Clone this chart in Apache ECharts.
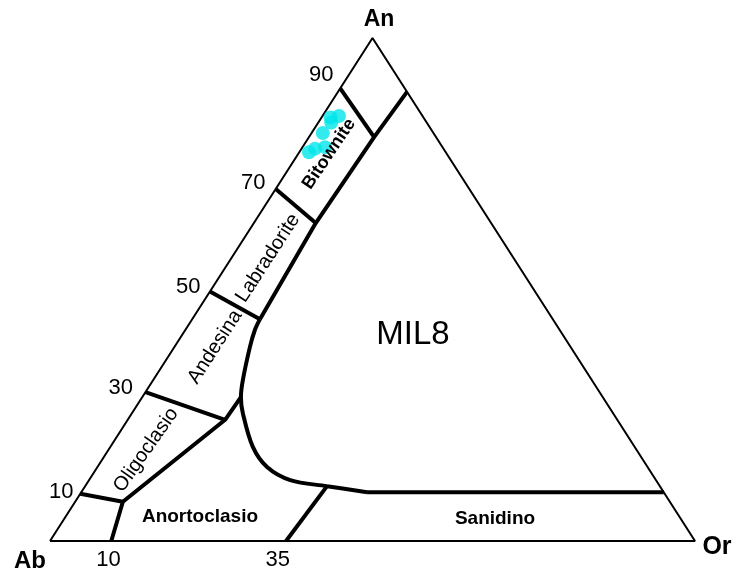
<!DOCTYPE html>
<html><head><meta charset="utf-8">
<script src="https://cdn.jsdelivr.net/npm/echarts@6/dist/echarts.min.js"></script>
<style>html,body{margin:0;padding:0;background:#fff}#c{width:740px;height:577px}</style>
</head><body><div id="c"></div>
<script>
// All points are ternary compositions [An, Or] in percent (Ab = 100 - An - Or)
const triangle = [[0,0],[0,100],[100,0],[0,0]];
const plagBoundary = [[89.3,10.7],[80.3,10.1],[63.2,9.6],[44.1,10.5]];
const solvusCurve = [[44.1,10.5],[41.9,10.8],[38.6,11.7],[32.0,13.9],[28.6,15.3],[25.4,17.2],[18.7,22.1],[14.7,26.3],[12.1,31.2],[10.9,37.5],[9.7,44.3]];
const sanidineTop = [[9.7,44.3],[9.7,90.3]];
const oligoBranch = [[28.6,15.3],[24.1,15.1],[7.8,7.4],[0,9.5]];
const dividers = [
  [[90,0],[80.3,10.1]],
  [[70,0],[63.2,9.6]],
  [[49.6,0],[44.1,10.5]],
  [[29.6,0],[24.1,15.1]],
  [[9.4,0],[7.8,7.4]]
];
const line35 = [[0,36.6],[10.9,37.5]];
const samples = [[77.3,1.5],[78.0,2.1],[78.3,3.5],[81.1,1.75],[83.2,2.0],[84.5,2.55],[84.2,1.4]];
const anTicks = [90,70,50,30,10];
const orTicks = [10,35];
const sampleName = 'MIL8';

// layout/styles (not data)
const anTickOffsets = [[-19,-13],[-22.5,-6],[-23,-2.5],[-26,-2],[-21,1]];
const orTickOffsets = [[-6,19],[2,19]];

function tern(p){ return [p[1] + p[0]/2, p[0]]; }
function conv(arr){ return arr.map(tern); }

const chart = echarts.init(document.getElementById('c'), null, {renderer:'canvas'});
const thick = {color:'#000', width:4};
const thin = {color:'#000', width:2};
function lineSeries(data, style, smooth){
  return {type:'line', data:conv(data), symbol:'none', smooth:smooth||false, clip:false,
    lineStyle:style, silent:true, animation:false, z:2};
}
const series = [
  lineSeries(triangle, thin),
  lineSeries(plagBoundary, thick),
  lineSeries(solvusCurve, thick, 0.35),
  lineSeries(sanidineTop, thick),
  lineSeries(oligoBranch, thick),
  lineSeries(line35, thick)
];
dividers.forEach(d => series.push(lineSeries(d, thick)));
series.push({type:'scatter', data:conv(samples), symbol:'circle', symbolSize:14,
  itemStyle:{color:'#00e6ea'}, z:5, animation:false, clip:false});

function txt(text, x, y, size, weight, rotDeg){
  return {type:'text', x:x, y:y, rotation:(rotDeg||0)*Math.PI/180, z:10,
    style:{text:text, x:0, y:0, align:'center', verticalAlign:'middle', fill:'#000',
      font: (weight||'normal') + ' ' + size + 'px "Liberation Sans", Arial, sans-serif'}};
}
const graphics = [
  txt('An', 379, 20, 23, 'bold'),
  txt('Ab', 30, 561, 24, 'bold'),
  txt('Or', 717, 547, 25, 'bold'),
  txt('Bitownite', 329, 154, 18, 'bold', 56),
  txt('Labradorite', 268, 258, 20, 'normal', 57),
  txt('Andesina', 215, 347, 20, 'normal', 57),
  txt('Oligoclasio', 146, 450, 20, 'normal', 55),
  txt('Anortoclasio', 200, 517, 19, 'bold'),
  txt('Sanidino', 495, 519, 19, 'bold'),
  txt(sampleName, 413, 335, 33, 'normal')
];

chart.setOption({
  animation:false,
  backgroundColor:'#fff',
  grid:{left:50, right:45, top:38, bottom:36},
  xAxis:{type:'value', min:0, max:100, show:false},
  yAxis:{type:'value', min:0, max:100, show:false},
  series: series
});

// tick labels placed through the chart's own scales
anTicks.forEach((v,i)=>{
  const p = chart.convertToPixel({gridIndex:0}, tern([v,0]));
  graphics.push(txt(String(v), p[0]+anTickOffsets[i][0], p[1]+anTickOffsets[i][1], 22, 'normal'));
});
orTicks.forEach((v,i)=>{
  const p = chart.convertToPixel({gridIndex:0}, tern([0,v]));
  graphics.push(txt(String(v), p[0]+orTickOffsets[i][0], p[1]+orTickOffsets[i][1], 22, 'normal'));
});
chart.setOption({graphic: graphics});
</script></body></html>
